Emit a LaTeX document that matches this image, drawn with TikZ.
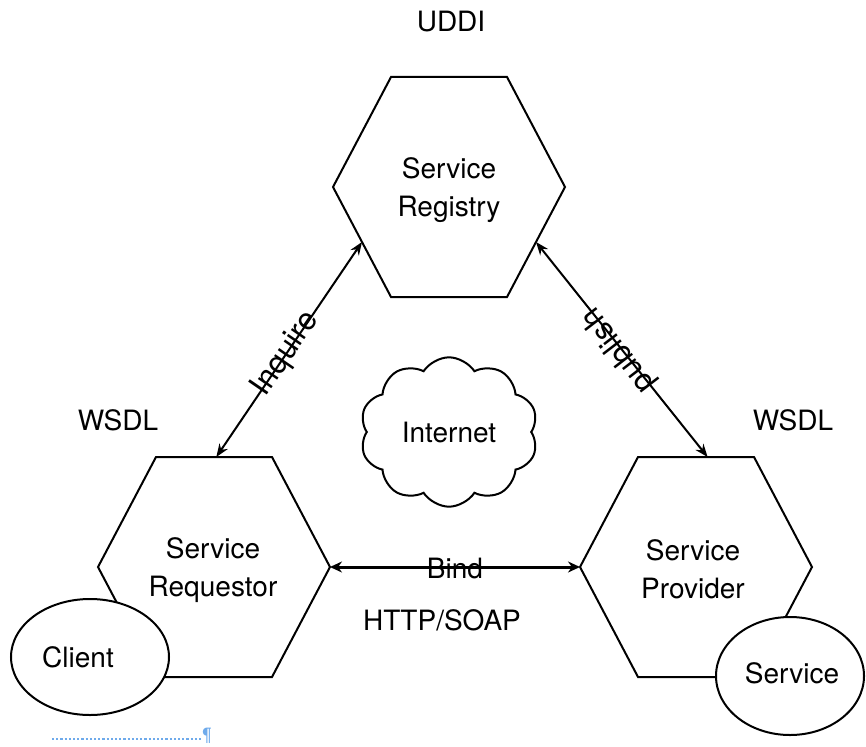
\documentclass[tikz,border=0pt]{standalone}
\usepackage{fontspec}
\setmainfont{TeX Gyre Heros}
\usetikzlibrary{shapes.geometric,shapes.symbols,arrows.meta,calc}
\definecolor{markblue}{RGB}{110,170,235}

% Hexagon with its corner points named <name>-l, -tl, -tr, -r, -br, -bl
\newcommand\hexshape[3]{%
  \coordinate (#1-l)  at ({#2-116},#3);
  \coordinate (#1-tl) at ({#2-58},{#3-110});
  \coordinate (#1-tr) at ({#2+58},{#3-110});
  \coordinate (#1-r)  at ({#2+116},#3);
  \coordinate (#1-br) at ({#2+58},{#3+110});
  \coordinate (#1-bl) at ({#2-58},{#3+110});
  \draw[hexline] (#1-l) -- (#1-tl) -- (#1-tr) -- (#1-r) -- (#1-br) -- (#1-bl) -- cycle;
}

\begin{document}
\begin{tikzpicture}[x=1pt,y=-1pt,
  lbl/.style={font=\fontsize{28}{38}\selectfont, inner sep=0pt, align=center},
  slbl/.style={font=\fontsize{31}{38}\selectfont, inner sep=0pt},
  hexline/.style={line width=2pt, line join=miter},
  link/.style={line width=2pt,
    {Stealth[length=13pt,width=10pt]}-{Stealth[length=13pt,width=10pt]}},
  bindlink/.style={line width=3pt,
    {Stealth[length=12pt,width=11pt]}-{Stealth[length=12pt,width=11pt]}},
  blob/.style={draw, line width=2pt, fill=white, ellipse, inner sep=0pt},
  net/.style={draw, line width=2pt, cloud, cloud puffs=10, cloud puff arc=115,
    inner sep=0pt, minimum width=178pt, minimum height=149pt},
]
\useasboundingbox (0,0) rectangle (866,746);

% the three roles
\hexshape{reg}{449}{187}
\hexshape{req}{214}{567}
\hexshape{prov}{696}{567}

\node[lbl] (regtxt)  at (449,190) {Service\\Registry};
\node[lbl] (reqtxt)  at (213,570) {Service\\Requestor};
\node[lbl] (provtxt) at (693,569) {Service\\Provider};

% client and service attached to the lower corners
\node[blob, minimum width=158pt, minimum height=116pt] (client) at (90,657) {};
\node[lbl] (clienttxt) at (78,657) {Client};
\node[blob, minimum width=148pt, minimum height=118pt] (svc) at (790,676) {};
\node[lbl] (svctxt) at (792,673) {Service};

% network in the middle
\node[net, lbl, draw] (inet) at (449,432) {Internet};

% standards labels
\node[lbl] (uddi)  at (451,22)  {UDDI};
\node[lbl] (wsdl1) at (118,420) {WSDL};
\node[lbl] (wsdl2) at (793,420) {WSDL};

% interactions
\coordinate (inqA) at ($(req-tl)!0.52!(req-tr)$);
\coordinate (inqB) at ($(reg-l)!0.5!(reg-bl)$);
\draw[link] (inqA) -- (inqB);
\coordinate (pubA) at ($(reg-r)!0.5!(reg-br)$);
\coordinate (pubB) at ($(prov-tl)!0.6!(prov-tr)$);
\draw[link] (pubA) -- (pubB);
\draw[bindlink] (req-r) -- (prov-l);

\node[slbl, rotate=55.5]  (inquire) at (286,354) {Inquire};
\node[slbl, rotate=127.5] (publish) at (619,350) {publish};
\node[lbl] (bind) at (455,568) {Bind};
\node[lbl] (http) at (442,620) {HTTP/SOAP};

% paragraph mark line
\coordinate (pA) at (52,739);
\coordinate (pB) at (201,739);
\draw[line width=2.2pt, dotted, markblue] (pA) -- (pB);
\node[inner sep=0pt, anchor=south west, font=\fontsize{17}{17}\selectfont,
  text=markblue] (pmark) at (202,744) {¶};
\end{tikzpicture}
\end{document}
